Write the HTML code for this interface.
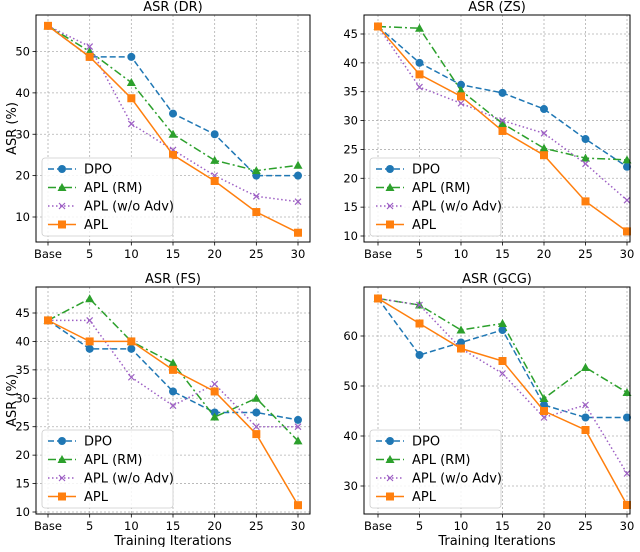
<!DOCTYPE html>
<html><head><meta charset="utf-8"><style>
body{margin:0;background:#fff;font-family:"Liberation Sans","DejaVu Sans",sans-serif}
svg text{font-family:"DejaVu Sans","Liberation Sans",sans-serif}
</style></head><body>
<svg id="c" width="640" height="547" viewBox="0 0 640 547" xmlns="http://www.w3.org/2000/svg"></svg>
<script>
const categories = ["Base","5","10","15","20","25","30"];
const seriesNames = ["DPO","APL (RM)","APL (w/o Adv)","APL"];
const drDPO=[56.2,48.7,48.7,35,30,20,20];
const drRM=[56.2,50,42.5,30,23.7,21.2,22.5];
const drWo=[56.2,51.2,32.5,26.2,20,15,13.7];
const drAPL=[56.2,48.7,38.7,25,18.7,11.2,6.2];
const zsDPO=[46.3,40,36.2,34.8,32,26.8,22];
const zsRM=[46.3,46,35.2,29.5,25.2,23.5,23.2];
const zsWo=[46.3,35.8,33,30,27.8,22.5,16.2];
const zsAPL=[46.3,38,34.2,28.2,24,16,10.8];
const fsDPO=[43.7,38.7,38.7,31.2,27.5,27.5,26.2];
const fsRM=[43.7,47.5,40,36.2,26.7,30,22.5];
const fsWo=[43.7,43.7,33.7,28.7,32.5,25,25];
const fsAPL=[43.7,40,40,35,31.2,23.7,11.2];
const gcgDPO=[67.5,56.2,58.7,61.2,46.2,43.7,43.7];
const gcgRM=[67.5,66.2,61.2,62.5,47.5,53.7,48.7];
const gcgWo=[67.5,66.2,57.5,52.5,43.7,46.2,32.5];
const gcgAPL=[67.5,62.5,57.5,55,45,41.2,26.2];
const drTicks=[10,20,30,40,50];
const zsTicks=[10,15,20,25,30,35,40,45];
const fsTicks=[10,15,20,25,30,35,40,45];
const gcgTicks=[30,40,50,60];

const NS="http://www.w3.org/2000/svg";
const svg=document.getElementById('c');
function mk(tag,attrs,parent,text){const e=document.createElementNS(NS,tag);for(const k in attrs)e.setAttribute(k,attrs[k]);if(text!==undefined)e.textContent=text;(parent||svg).appendChild(e);return e;}
const colors=["#1f77b4","#2ca02c","#9d5fc4","#ff7f0e"];
const dashes=["6,3","8,3,2,3","1.5,2.5",""];

function panel(cfg){
  const g=mk('g',{});
  
  
  const {L,R,T,B,x0,x1,yv0,yp0,yv1,yp1}=cfg;
  const xs=i=>x0+(x1-x0)*i/6;
  const ys=v=>yp0+(v-yv0)*(yp1-yp0)/(yv1-yv0);
  categories.forEach((c,i)=>{
    const l=mk('line',{x1:xs(i),x2:xs(i),y1:T,y2:B,stroke:'#b0b0b0','stroke-dasharray':'2,2','stroke-width':0.8},g);
    
    mk('line',{x1:xs(i),x2:xs(i),y1:B,y2:B+3.5,stroke:'#000','stroke-width':0.8},g);
    const t=mk('text',{x:xs(i),y:B+16,'text-anchor':'middle','font-size':11.5},g,c);
    
  });
  cfg.ticks.forEach(v=>{
    const y=ys(v);
    const l=mk('line',{x1:L,x2:R,y1:y,y2:y,stroke:'#b0b0b0','stroke-dasharray':'2,2','stroke-width':0.8},g);
    
    mk('line',{x1:L-3.5,x2:L,y1:y,y2:y,stroke:'#000','stroke-width':0.8},g);
    const t=mk('text',{x:L-6,y:y+4,'text-anchor':'end','font-size':11.5},g,String(v));
    
  });
  cfg.series.forEach((d,s)=>{
    const pts=d.map((v,i)=>xs(i)+','+ys(v)).join(' ');
    const pl=mk('polyline',{points:pts,fill:'none',stroke:colors[s],'stroke-width':1.5,'stroke-dasharray':dashes[s]},g);
    
    
    d.forEach((v,i)=>{marker(g,s,xs(i),ys(v));});
  });
  const fr=mk('rect',{x:L,y:T,width:R-L,height:B-T,fill:'none',stroke:'#000','stroke-width':1},g);
  
  const ti=mk('text',{x:(L+R)/2,y:T-4,'text-anchor':'middle','font-size':13},g,cfg.title);
  
  if(cfg.ylabel){const yl=mk('text',{x:0,y:0,'text-anchor':'middle','font-size':13,transform:`translate(16,${(T+B)/2}) rotate(-90)`},g,'ASR (%)');
    }
  if(cfg.xlabel){const xl=mk('text',{x:(L+R)/2,y:B+31,'text-anchor':'middle','font-size':13},g,'Training Iterations');
    }
  const lx=L+6,ly=B-84;
  const lg=mk('g',{},g);
  
  mk('rect',{x:lx,y:ly,width:131,height:78,rx:3,fill:'#fff','fill-opacity':0.85,stroke:'#ccc','stroke-width':0.8},lg);
  seriesNames.forEach((n,s)=>{
    const yy=ly+11+s*18.5;
    const e=mk('g',{},lg);
    
    mk('line',{x1:lx+6,x2:lx+34,y1:yy,y2:yy,stroke:colors[s],'stroke-width':1.5,'stroke-dasharray':dashes[s]},e);
    marker(e,s,lx+20,yy);
    mk('text',{x:lx+42,y:yy+4.5,'font-size':13},e,n);
  });
}
function marker(g,s,x,y){
  const c=colors[s];let m;
  if(s===0)m=mk('circle',{cx:x,cy:y,r:4,fill:c},g);
  else if(s===1)m=mk('polygon',{points:`${x},${y-4.5} ${x-4.5},${y+3.5} ${x+4.5},${y+3.5}`,fill:c},g);
  else if(s===2)m=mk('path',{d:`M${x-3},${y-3}L${x+3},${y+3}M${x-3},${y+3}L${x+3},${y-3}`,stroke:c,'stroke-width':1.2,fill:'none'},g);
  else m=mk('rect',{x:x-4,y:y-4,width:8,height:8,fill:c},g);
  
}
panel({name:'panel-dr',title:'ASR (DR)',L:36,R:310,T:15,B:242,x0:48,x1:298,yv0:50,yp0:51.5,yv1:10,yp1:217,ticks:drTicks,series:[drDPO,drRM,drWo,drAPL],ylabel:true});
panel({name:'panel-zs',title:'ASR (ZS)',L:364,R:630,T:15,B:242,x0:378,x1:627,yv0:45,yp0:34,yv1:10,yp1:236,ticks:zsTicks,series:[zsDPO,zsRM,zsWo,zsAPL]});
panel({name:'panel-fs',title:'ASR (FS)',L:36,R:310,T:287,B:514,x0:48,x1:298,yv0:45,yp0:313,yv1:10,yp1:512,ticks:fsTicks,series:[fsDPO,fsRM,fsWo,fsAPL],ylabel:true,xlabel:true});
panel({name:'panel-gcg',title:'ASR (GCG)',L:364,R:630,T:287,B:514,x0:378,x1:627,yv0:60,yp0:336,yv1:30,yp1:486,ticks:gcgTicks,series:[gcgDPO,gcgRM,gcgWo,gcgAPL],xlabel:true});
</script>
</body></html>
